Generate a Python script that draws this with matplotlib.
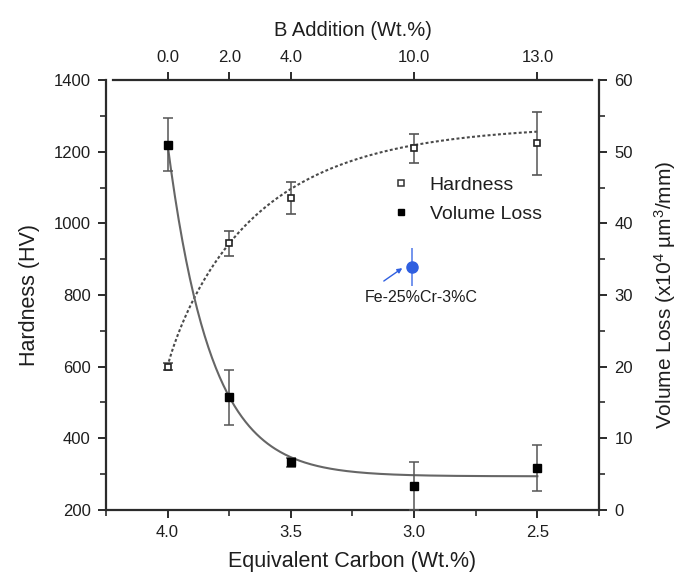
import numpy as np
import matplotlib
matplotlib.use("Agg")
import matplotlib.pyplot as plt
from matplotlib.ticker import MultipleLocator, FixedLocator
from matplotlib.lines import Line2D

plt.rcParams['font.family'] = ['Liberation Sans', 'DejaVu Sans']
plt.rcParams['mathtext.fontset'] = 'custom'
plt.rcParams['mathtext.rm'] = 'Liberation Sans'
plt.rcParams['mathtext.it'] = 'Liberation Sans'

# ---- data ----
carbon_eq = [4.0, 3.75, 3.5, 3.0, 2.5]
b_addition_labels = ["0.0", "2.0", "4.0", "10.0", "13.0"]
hardness = [600, 944, 1070, 1209, 1223]
hardness_err = [10, 36, 45, 40, 87]
volume_loss = [51.0, 15.7, 6.65, 3.35, 5.9]
volume_loss_err = [3.7, 3.8, 0.6, 3.4, 3.2]

ref_label = "Fe-25%Cr-3%C"
ref_carbon = 3.01
ref_volume = 33.9
ref_volume_err = 2.6

# fitted-curve parameters
h_inf, h_start, h_tau, h_pow = 1275.0, 600.0, 0.365, 0.9
v_inf, v_amp, v_tau = 4.7, 46.3, 0.175

TXT = "#1e1e1e"
AX = "#2b2b2b"

fig = plt.figure(figsize=(6.78, 5.88), dpi=100)
ax = fig.add_axes([0.1563, 0.1327, 0.8835 - 0.1563, 0.8639 - 0.1327])
ax2 = ax.twinx()
ax3 = ax.twiny()

xlim = (4.25, 2.25)
ax.set_xlim(*xlim)
ax.set_ylim(200, 1400)
ax2.set_ylim(0, 60)
ax3.set_xlim(*xlim)

# curves
xc = np.linspace(4.0, 2.5, 300)
d = 4.0 - xc
h_curve = h_inf - (h_inf - h_start) * np.exp(-(d / h_tau) ** h_pow)
v_curve = v_inf + v_amp * np.exp(-d / v_tau)
ax.plot(xc, h_curve, color="#4a4a4a", lw=1.5, ls=(0, (1.4, 1.1)), zorder=2)
ax2.plot(xc, v_curve, color="#666666", lw=1.5, zorder=2)

# data points
ax.errorbar(carbon_eq, hardness, yerr=hardness_err, fmt='s', ms=5,
            mfc='white', mec='#222222', mew=1.2, ecolor='#555555',
            elinewidth=1.1, capsize=3.5, capthick=1.1, zorder=4)
ax2.errorbar(carbon_eq, volume_loss, yerr=volume_loss_err, fmt='s', ms=5.5,
             mfc='black', mec='black', ecolor='#555555',
             elinewidth=1.1, capsize=3.5, capthick=1.1, zorder=4)

# reference alloy
blue = "#2f5fe0"
ax2.errorbar([ref_carbon], [ref_volume], yerr=[ref_volume_err], fmt='o', ms=8,
             color=blue, ecolor="#5b82ea", elinewidth=1.2, capsize=0, zorder=5)
ax2.annotate("", xy=(ref_carbon + 0.038, ref_volume - 0.15),
             xytext=(ref_carbon + 0.113, ref_volume - 1.95),
             arrowprops=dict(arrowstyle='-|>', color=blue, lw=1.0,
                             mutation_scale=7, shrinkA=0, shrinkB=0), zorder=5)
ax2.text(2.972, 29.7, ref_label, fontsize=11.5, color=TXT,
         ha='center', va='center')

# legend
handles = [
    Line2D([], [], ls='none', marker='s', ms=4.5, mfc='white', mec='#333333', mew=1.1),
    Line2D([], [], ls='none', marker='s', ms=5, mfc='black', mec='black'),
]
leg = ax2.legend(handles, ["Hardness", "Volume Loss"], loc='upper left',
                 bbox_to_anchor=(0.578, 0.777), frameon=False, fontsize=14,
                 handlelength=1.0, handletextpad=1.0, labelspacing=0.6,
                 borderaxespad=0, borderpad=0)
for t in leg.get_texts():
    t.set_color(TXT)

# axes styling
for a in (ax, ax2, ax3):
    for s in a.spines.values():
        s.set_visible(False)
        s.set_linewidth(1.6)
        s.set_color(AX)

ax.spines['left'].set_visible(True)
ax.spines['bottom'].set_visible(True)
ax2.spines['right'].set_visible(True)
ax3.spines['top'].set_visible(True)
ax3.spines['top'].set_bounds(4.222, 2.278)

ax.xaxis.set_major_locator(FixedLocator([4.0, 3.5, 3.0, 2.5]))
ax.xaxis.set_minor_locator(MultipleLocator(0.25))
ax.set_xticklabels(["4.0", "3.5", "3.0", "2.5"])
ax.yaxis.set_major_locator(MultipleLocator(200))
ax.yaxis.set_minor_locator(MultipleLocator(100))
ax2.yaxis.set_major_locator(MultipleLocator(10))
ax2.yaxis.set_minor_locator(MultipleLocator(5))
ax3.xaxis.set_major_locator(FixedLocator(carbon_eq))
ax3.set_xticklabels(b_addition_labels)
ax3.xaxis.set_minor_locator(FixedLocator([]))

ax.tick_params(axis='both', which='major', direction='out', length=6, width=1.4,
               color=AX, labelsize=12, labelcolor=TXT, pad=5)
ax.tick_params(axis='both', which='minor', direction='out', length=4, width=1.2, color=AX)
ax.tick_params(axis='x', top=False)
ax.tick_params(axis='y', right=False)
ax2.tick_params(axis='y', which='major', direction='out', length=6, width=1.4,
                color=AX, labelsize=12, labelcolor=TXT, pad=5)
ax2.tick_params(axis='y', which='minor', direction='out', length=4, width=1.2, color=AX)
ax3.tick_params(axis='x', which='major', direction='out', length=6, width=1.4,
                color=AX, labelsize=12, labelcolor=TXT, pad=5)

ax.set_xlabel("Equivalent Carbon (Wt.%)", fontsize=15.5, color=TXT, labelpad=8)
ax.set_ylabel("Hardness (HV)", fontsize=15.5, color=TXT, labelpad=10)
ax2.set_ylabel(r"Volume Loss (x10$^{4}$ µm$^{3}$/mm)", fontsize=15, color=TXT,
               labelpad=14)
ax3.set_xlabel("B Addition (Wt.%)", fontsize=14.5, color=TXT, labelpad=10)

fig.savefig("out.png", dpi=100, facecolor='white')
